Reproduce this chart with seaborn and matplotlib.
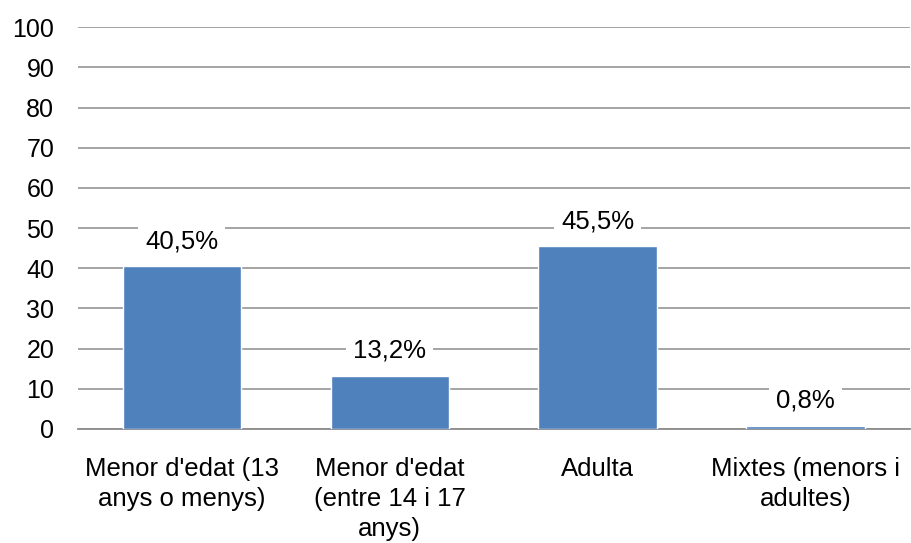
import matplotlib
matplotlib.use("Agg")
import matplotlib.pyplot as plt
import seaborn as sns
import pandas as pd

categories = ["Menor d'edat (13\nanys o menys)",
              "Menor d'edat\n(entre 14 i 17\nanys)",
              "Adulta",
              "Mixtes (menors i\nadultes)"]
values = [40.5, 13.2, 45.5, 0.8]
value_labels = ["40,5%", "13,2%", "45,5%", "0,8%"]
y_ticks = [0, 10, 20, 30, 40, 50, 60, 70, 80, 90, 100]

sns.set_style("white")
plt.rcParams['font.family'] = ['Liberation Sans', 'DejaVu Sans']
plt.rcParams['text.color'] = 'black'
plt.rcParams['xtick.color'] = 'black'
plt.rcParams['ytick.color'] = 'black'

df = pd.DataFrame({"cat": categories, "val": values})

fig = plt.figure(figsize=(9.11, 5.43), dpi=100)
ax = fig.add_axes([0.0855, 0.21, 0.913, 0.74])

sns.barplot(data=df, x="cat", y="val", color="#4F81BD", width=0.57,
            saturation=1, ax=ax, zorder=3)

ax.set_ylim(0, 100)
ax.set_yticks(y_ticks)
ax.set_xlim(-0.5, 3.5)
ax.yaxis.grid(True, color="#8C8C8C", linewidth=1.1, zorder=0)
ax.set_axisbelow(True)
for s in ["top", "right", "left"]:
    ax.spines[s].set_visible(False)
ax.spines["bottom"].set_color("#8C8C8C")
ax.spines["bottom"].set_linewidth(1.3)
ax.set_xlabel("")
ax.set_ylabel("")
ax.tick_params(axis="y", length=0, pad=17, labelsize=18, labelcolor="black")
ax.tick_params(axis="x", length=0, pad=20, labelsize=18.5, labelcolor="black")
for t in ax.get_xticklabels():
    t.set_linespacing(1.33)

for i, (v, lab) in enumerate(zip(values, value_labels)):
    ax.annotate(lab, (i, v), xytext=(0, 18), textcoords="offset points",
                ha="center", va="center", fontsize=18.5, color="black",
                bbox=dict(facecolor="white", edgecolor="none", pad=5),
                zorder=5)

fig.savefig("out.png", dpi=100)
